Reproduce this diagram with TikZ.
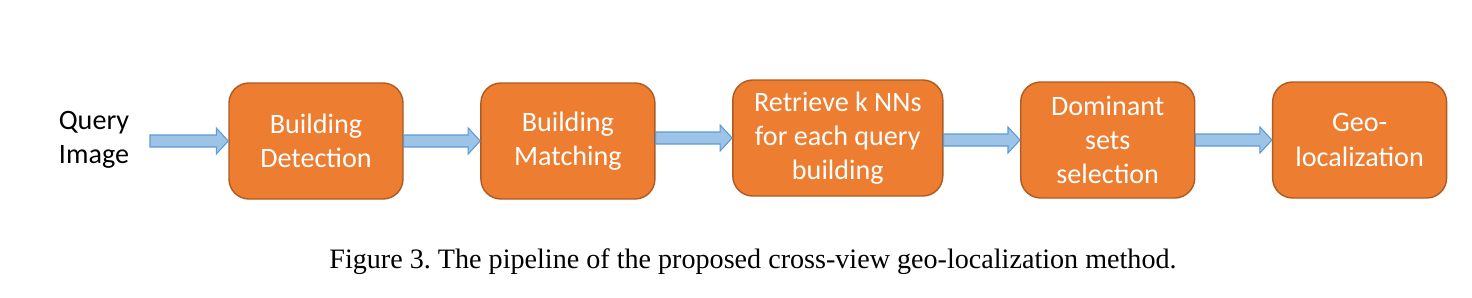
\documentclass[tikz,border=0pt]{standalone}
\usepackage{fontspec}
\setmainfont{Carlito}
\newfontfamily\capfont{Liberation Serif}
\usepackage{xcolor}
\usepackage{tikz}
\usetikzlibrary{positioning, calc}
\definecolor{boxorange}{HTML}{ED7D31}
\definecolor{boxedge}{HTML}{AE5A21}
\definecolor{flowfill}{HTML}{9DC3E6}
\definecolor{flowedge}{HTML}{5B9BD5}
\tikzstyle{block} = [draw=boxedge, fill=boxorange, rounded corners=0.4cm, line width=0.8pt, minimum height=2.32cm, minimum width=3.48cm, align=center, text=white, font=\fontsize{16}{19.5}\selectfont]
\tikzstyle{flow} = [draw=flowedge, fill=flowfill, line width=0.6pt]
% block arrow from a point to the west side of a node
\newcommand{\flowarrow}[2]{%
  \draw[flow] let \p1=#1, \p2=(#2.west) in
    (\x1,\y2+0.12cm) -- (\x2-0.24cm,\y2+0.12cm) -- (\x2-0.24cm,\y2+0.26cm) -- (\x2,\y2)
    -- (\x2-0.24cm,\y2-0.26cm) -- (\x2-0.24cm,\y2-0.12cm) -- (\x1,\y2-0.12cm) -- cycle;}

\begin{document}
\begin{tikzpicture}[node distance=1.53cm]
        \useasboundingbox (0,0) rectangle (29.44,5.94);

        % nodes
        \node [align=center, font=\fontsize{16}{19.5}\selectfont] (query) at (1.88,3.14) {Query\\Image};
        \coordinate (in) at (3.0,3.18);
        \node [block] (det) at (6.32,3.12) {Building\\Detection};
        \node [block, right=of det] (match) {Building\\Matching};
        \node [block, right=of match, minimum width=4.2cm, yshift=0.06cm] (knn) {Retrieve k NNs\\for each query\\building};
        \node [block, right=of knn, yshift=-0.04cm] (dom) {Dominant\\sets\\selection};
        \node [block, right=of dom] (geo) {Geo-\\localization};
        \node [font=\capfont\fontsize{16}{19}\selectfont\frenchspacing] (caption) at (15.06,0.70) {Figure 3. The pipeline of the proposed cross-view geo-localization method.};

        % arrows
        \flowarrow{(in)}{det}
        \flowarrow{(det.east)}{match}
        \flowarrow{(match.east)}{knn}
        \flowarrow{(knn.east)}{dom}
        \flowarrow{(dom.east)}{geo}
\end{tikzpicture}
\end{document}
